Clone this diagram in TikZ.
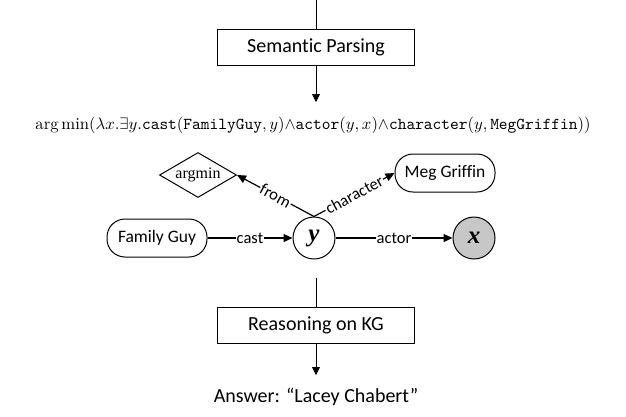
\documentclass[tikz,border=0pt]{standalone}
\usepackage{fontspec}
\newfontfamily\calfont[Ligatures={NoCommon}]{Carlito}
\newfontfamily\tnrfont{Liberation Serif}
\usetikzlibrary{arrows.meta,shapes.geometric}
\tikzset{
  lbl/.style={font=\calfont\fontsize{20}{24}\selectfont},
  stagebox/.style={draw, line width=0.8pt, minimum width=197pt, minimum height=36pt, inner sep=0pt, lbl},
  ent/.style={draw, rounded corners=18pt, line width=1pt, minimum width=100pt, minimum height=38pt, inner sep=0pt, font=\calfont\fontsize{17.5}{20}\selectfont},
  var/.style={circle, draw, line width=1pt, minimum size=42pt, inner sep=0pt, font=\tnrfont\bfseries\itshape\fontsize{25}{27}\selectfont},
  elbl/.style={fill=white, inner sep=1pt, font=\calfont\fontsize{16.5}{18}\selectfont},
  arr/.style={-{Triangle[length=8pt,width=8pt]}, line width=0.8pt},
  garr/.style={-{Triangle[length=9pt,width=8pt]}, line width=1.2pt},
}
\begin{document}
\begin{tikzpicture}[x=1pt,y=-1pt]
\useasboundingbox (0,0) rectangle (626,416);
\coordinate (top) at (316,0);
\node[stagebox] (sp) at (316,47.5) {Semantic Parsing};
\node[inner sep=0pt] (form) at (313,125) {\resizebox{555pt}{!}{$\arg\min(\lambda x.\exists y.\texttt{cast}(\texttt{FamilyGuy},y){\wedge}\texttt{actor}(y,x){\wedge}\texttt{character}(y,\texttt{MegGriffin}))$}};
\coordinate (ftip) at (316,102);
\draw[line width=0.8pt] (top) -- (sp.north);
\draw[arr] (sp.south) -- (ftip);

\node[ent] (fg) at (157,238) {Family Guy};
\node[var] (y) at (314,238) {y};
\node[var, fill=black!22] (x) at (474,238) {x};
\node[ent] (mg) at (445,173) {Meg Griffin};
\node[diamond, draw, line width=1pt, aspect=1.7, inner sep=1pt, minimum width=77pt, minimum height=45pt, font=\tnrfont\fontsize{16}{18}\selectfont] (am) at (198,175) {argmin};

\draw[garr] (fg) -- node[elbl] {cast} (y);
\draw[garr] (y) -- node[elbl] {actor} (x);
\draw[garr] (y.north) -- node[elbl, sloped] {from} (am.east);
\draw[garr] (y.north) -- node[elbl, sloped] {character} (mg.west);

\coordinate (r0) at (316,278);
\node[stagebox] (rk) at (316,325.5) {Reasoning on KG};
\coordinate (atip) at (316,375);
\node[lbl, inner sep=0pt] (ans) at (316,397) {Answer: “Lacey Chabert”};
\draw[line width=0.8pt] (r0) -- (rk.north);
\draw[arr] (rk.south) -- (atip);
\end{tikzpicture}
\end{document}
